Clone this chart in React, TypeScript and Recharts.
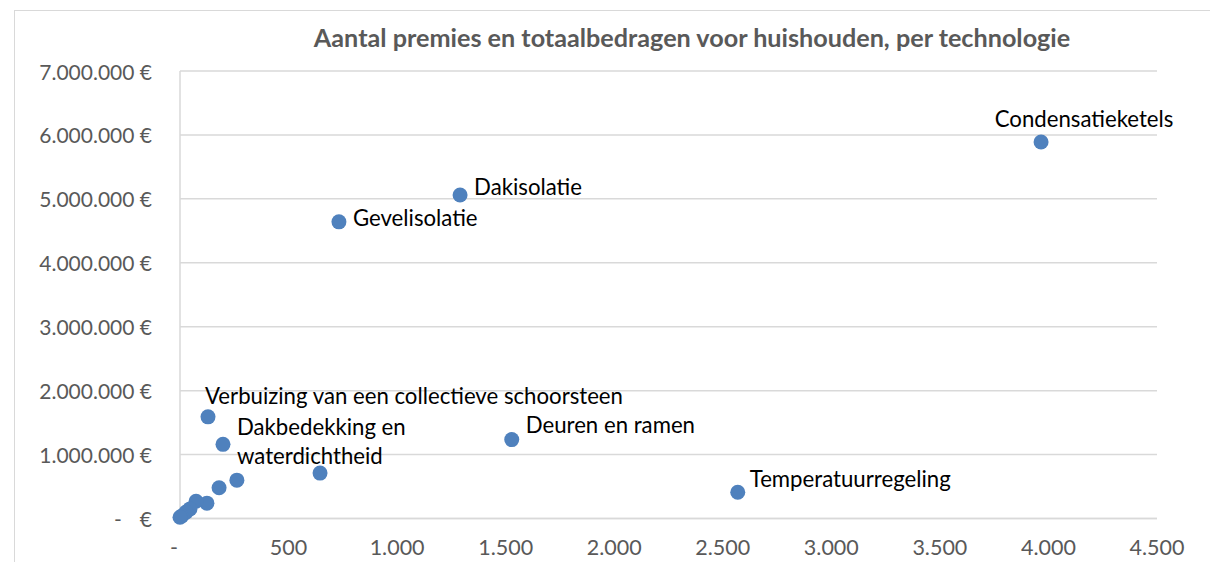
import React from "react";
import { ScatterChart, Scatter, XAxis, YAxis, CartesianGrid } from "recharts";

// Aantal premies (x) en totaalbedrag in euro (y) per technologie
const technologies = [
  "Condensatieketels",
  "Dakisolatie",
  "Gevelisolatie",
  "Deuren en ramen",
  "Temperatuurregeling",
  "Verbuizing van een collectieve schoorsteen",
  "Dakbedekking en waterdichtheid",
  "",
  "",
  "",
  "",
  "",
  "",
  "",
  "",
  "",
];
const premieCounts = [3966, 1290, 732, 1528, 2569, 129, 198, 645, 262, 180, 124, 74, 46, 28, 8, 0];
const totalAmounts = [
  5890000, 5060000, 4640000, 1234000, 410000, 1590000, 1160000, 710000, 600000, 480000,
  240000, 270000, 150000, 100000, 40000, 20000,
];

const xTicks = [0, 500, 1000, 1500, 2000, 2500, 3000, 3500, 4000, 4500];
const yTicks = [0, 1000000, 2000000, 3000000, 4000000, 5000000, 6000000, 7000000];

const chartTitle = "Aantal premies en totaalbedragen voor huishouden, per technologie";

const data = technologies.map((name, i) => ({
  name,
  count: premieCounts[i],
  amount: totalAmounts[i],
}));

const FONT = "Lato, 'Open Sans', sans-serif";
const TICK_COLOR = "#595959";
const GRID_COLOR = "#d9d9d9";
const MARKER_COLOR = "#4f81bd";
const LABEL_SIZE = 22.2;

const fmtThousands = (v: number) => v.toLocaleString("de-DE");

const XTick = (props: any) => {
  const { x, y, payload } = props;
  const v = payload.value as number;
  return (
    <text
      x={v === 0 ? x - 6 : x}
      y={y + 20}
      textAnchor="middle"
      dominantBaseline="central"
      fill={TICK_COLOR}
      fontSize={21.5}
      fontFamily={FONT}
    >
      {v === 0 ? "-" : fmtThousands(v)}
    </text>
  );
};

const YTick = (props: any) => {
  const { y, payload } = props;
  const v = payload.value as number;
  const right = 152;
  if (v === 0) {
    return (
      <g fill={TICK_COLOR} fontSize={21} fontFamily={FONT}>
        <text x={118} y={y} textAnchor="middle" dominantBaseline="central">
          -
        </text>
        <text x={right} y={y} textAnchor="end" dominantBaseline="central">
          €
        </text>
      </g>
    );
  }
  return (
    <text
      x={right}
      y={y}
      textAnchor="end"
      dominantBaseline="central"
      fill={TICK_COLOR}
      fontSize={21}
      fontFamily={FONT}
    >
      {fmtThousands(v) + " €"}
    </text>
  );
};

// label placement relative to the marker, roughly as Excel placed them
const placement = (name: string) => {
  switch (name) {
    case "Condensatieketels":
      return { dx: 43, dy: -23, anchor: "middle" };
    case "Dakisolatie":
      return { dx: 14, dy: -9, anchor: "start" };
    case "Gevelisolatie":
      return { dx: 14, dy: -4, anchor: "start" };
    case "Deuren en ramen":
      return { dx: 14, dy: -15, anchor: "start" };
    case "Temperatuurregeling":
      return { dx: 12, dy: -14, anchor: "start" };
    case "Verbuizing van een collectieve schoorsteen":
      return { dx: -3, dy: -21, anchor: "start" };
    default:
      return { dx: 14, dy: -12, anchor: "start" };
  }
};

const Marker = (props: any) => {
  const { cx, cy, payload } = props;
  const name: string = payload.name;
  let label: React.ReactNode = null;
  if (name) {
    const p = placement(name);
    if (name === "Dakbedekking en waterdichtheid") {
      label = (
        <g fontSize={LABEL_SIZE} fontFamily={FONT} fill="#000">
          <text x={cx + 14} y={cy - 18} dominantBaseline="central">
            Dakbedekking en
          </text>
          <text x={cx + 14} y={cy + 11} dominantBaseline="central">
            waterdichtheid
          </text>
        </g>
      );
    } else {
      label = (
        <text
          x={cx + p.dx}
          y={cy + p.dy}
          textAnchor={p.anchor as any}
          dominantBaseline="central"
          fontSize={LABEL_SIZE}
          fontFamily={FONT}
          fill="#000"
        >
          {name}
        </text>
      );
    }
  }
  return (
    <g>
      <circle cx={cx} cy={cy} r={7.5} fill={MARKER_COLOR} />
      {label}
    </g>
  );
};

export default function App() {
  return (
    <div
      style={{
        position: "absolute",
        left: 0,
        top: 0,
        width: 1210,
        height: 562,
        overflow: "hidden",
        background: "#fff",
      }}
    >
      <div
        style={{
          position: "absolute",
          left: 14,
          top: 10,
          width: 1400,
          height: 700,
          border: `1.5px solid ${GRID_COLOR}`,
        }}
      />
      <div
        style={{
          position: "absolute",
          left: 0,
          top: 20,
          width: 1384,
          textAlign: "center",
          fontFamily: FONT,
          fontWeight: 700,
          fontSize: 25.2,
          lineHeight: "34px",
          color: TICK_COLOR,
          whiteSpace: "nowrap",
        }}
      >
        {chartTitle}
      </div>
      <div style={{ position: "absolute", left: 0, top: 0 }}>
        <ScatterChart
          width={1210}
          height={562}
          margin={{ top: 71, right: 53, bottom: 0, left: 0 }}
        >
          <CartesianGrid
            horizontal={true}
            vertical={false}
            stroke={GRID_COLOR}
            strokeWidth={1.5}
          />
          <XAxis
            type="number"
            dataKey="count"
            domain={[0, 4500]}
            ticks={xTicks}
            interval={0}
            height={43.5}
            axisLine={{ stroke: GRID_COLOR, strokeWidth: 1.5 }}
            tickLine={false}
            tick={<XTick />}
          />
          <YAxis
            type="number"
            dataKey="amount"
            domain={[0, 7000000]}
            ticks={yTicks}
            interval={0}
            width={180}
            axisLine={{ stroke: GRID_COLOR, strokeWidth: 1.5 }}
            tickLine={false}
            tick={<YTick />}
          />
          <Scatter
            data={data}
            fill={MARKER_COLOR}
            shape={<Marker />}
            isAnimationActive={false}
          />
        </ScatterChart>
      </div>
    </div>
  );
}
